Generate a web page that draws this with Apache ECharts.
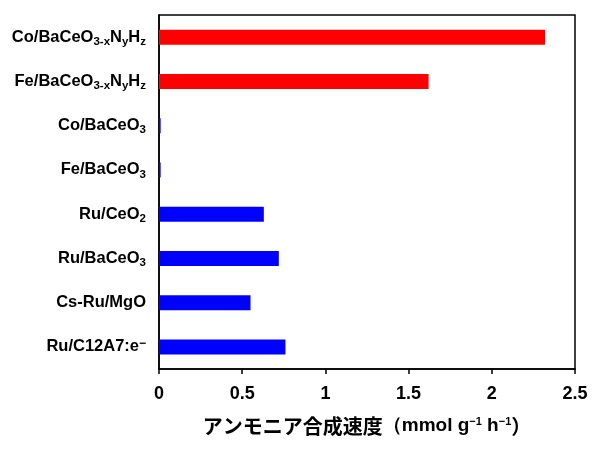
<!DOCTYPE html>
<html lang="ja">
<head>
<meta charset="UTF-8">
<title>アンモニア合成速度</title>
<style>
	html,body{margin:0;padding:0;background:#fff;}
	#chart{width:600px;height:455px;}
</style>
</head>
<body>
<div id="chart"></div>
<script src="https://cdn.jsdelivr.net/npm/echarts@6/dist/echarts.min.js"></script>
<script>
	// 触媒名（上から順）
	var catalysts = ['Co/BaCeO3-xNyHz','Fe/BaCeO3-xNyHz','Co/BaCeO3','Fe/BaCeO3','Ru/CeO2','Ru/BaCeO3','Cs-Ru/MgO','Ru/C12A7:e-'];
	// 表示用ラベル（下付き文字はリッチテキスト）
	var catalystLabels = [
		'{n|Co/BaCeO}{s|3-x}{n|N}{s|y}{n|H}{s|z}',
		'{n|Fe/BaCeO}{s|3-x}{n|N}{s|y}{n|H}{s|z}',
		'{n|Co/BaCeO}{s|3}',
		'{n|Fe/BaCeO}{s|3}',
		'{n|Ru/CeO}{s|2}',
		'{n|Ru/BaCeO}{s|3}',
		'{n|Cs-Ru/MgO}',
		'{n|Ru/C12A7:e}{u|−}'
	];
	// アンモニア合成速度 (mmol g-1 h-1)
	var rates = [2.32, 1.62, 0.01, 0.01, 0.63, 0.72, 0.55, 0.76];
	// 系列の区分
	var groups = ['new','new','ref','ref','ref','ref','ref','ref'];
	var xTicks = [0, 0.5, 1, 1.5, 2, 2.5];

	var groupColor = {'new':'#ff0000','ref':'#0000ff'};

	var option = {
		animation:false,
		grid:{
			left:159,
			right:25,
			top:15,
			bottom:86,
			show:true,
			borderColor:'#000',
			borderWidth:1.5,
			backgroundColor:'#fff'
		},
		xAxis:{
			type:'value',
			min:xTicks[0],
			max:xTicks[xTicks.length-1],
			interval:0.5,
			axisLine:{show:true,lineStyle:{color:'#000',width:1.5}},
			axisTick:{show:true,length:5,lineStyle:{color:'#000',width:1.5}},
			splitLine:{show:false},
			axisLabel:{
				color:'#000',
				fontSize:18,
				fontWeight:'bold',
				fontFamily:'Liberation Sans',
				margin:16
			},
			name:'{j|アンモニア合成速度}{e|（mmol g}{p|−1}{e| h}{p|−1}{j|）}',
			nameLocation:'middle',
			nameGap:47,
			nameTextStyle:{
				rich:{
					j:{fontFamily:'Noto Sans CJK JP',fontSize:20,fontWeight:'bold',color:'#000'},
					e:{fontFamily:'Liberation Sans',fontSize:19,fontWeight:'bold',color:'#000'},
					p:{fontFamily:'Liberation Sans',fontSize:11,fontWeight:'bold',color:'#000',padding:[0,0,9,0]}
				}
			}
		},
		yAxis:{
			type:'category',
			inverse:true,
			data:catalysts,
			axisLine:{show:true,lineStyle:{color:'#000',width:1.5}},
			axisTick:{show:false},
			axisLabel:{
				margin:13,
				formatter:function(v,i){return catalystLabels[i];},
				rich:{
					n:{fontFamily:'Liberation Sans',fontSize:16.5,fontWeight:'bold',color:'#000'},
					s:{fontFamily:'Liberation Sans',fontSize:11.5,fontWeight:'bold',color:'#000',padding:[9,0,0,0]},
					u:{fontFamily:'Liberation Sans',fontSize:12,fontWeight:'bold',color:'#000',padding:[0,0,6,0]}
				}
			}
		},
		series:[{
			type:'bar',
			barWidth:15,
			data:rates.map(function(v,i){
				return {value:v,itemStyle:{color:groupColor[groups[i]]}};
			})
		}]
	};
	var myChart = echarts.init(document.getElementById('chart'));
	myChart.setOption(option);
</script>
</body>
</html>
